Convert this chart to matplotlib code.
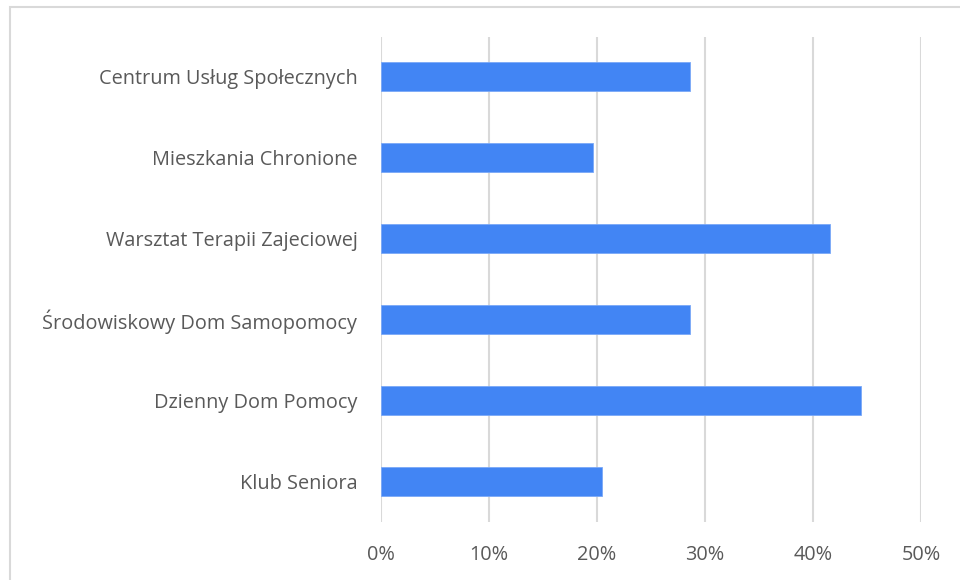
import matplotlib.pyplot as plt
from matplotlib.patches import Rectangle
from matplotlib.ticker import PercentFormatter

categories = ['Centrum Usług Społecznych', 'Mieszkania Chronione',
              'Warsztat Terapii Zajeciowej', 'Środowiskowy Dom Samopomocy',
              'Dzienny Dom Pomocy', 'Klub Seniora']
values = [0.286, 0.196, 0.416, 0.286, 0.444, 0.205]
xticks = [0, 0.1, 0.2, 0.3, 0.4, 0.5]

plt.rcParams['font.family'] = ['Open Sans', 'DejaVu Sans']

fig = plt.figure(figsize=(9.6, 5.8), dpi=100)
ax = fig.add_axes([381 / 960, 1 - 521.5 / 580, 540 / 960, 485 / 580])

# outer chart border (cut off at right and bottom)
fig.patches.append(Rectangle((10 / 960, -0.1), 1.2, 1 - 7 / 580 + 0.1,
                             transform=fig.transFigure, fill=False,
                             edgecolor='#d9d9d9', linewidth=1.5))

y = list(range(len(categories)))
ax.barh(y, values, height=0.36, color='#4285F4', edgecolor='#7aa9f7',
        linewidth=0.6, zorder=3)

ax.set_xlim(0, 0.5)
ax.set_ylim(len(categories) - 0.5, -0.5)
ax.set_xticks(xticks)
ax.xaxis.set_major_formatter(PercentFormatter(1.0, decimals=0))
ax.set_yticks(y)
ax.set_yticklabels(categories)
ax.grid(axis='x', color='#d9d9d9', linewidth=1.5, zorder=0)
for s in ax.spines.values():
    s.set_visible(False)
ax.tick_params(axis='both', length=0, labelcolor='#595959', labelsize=14.3)
ax.tick_params(axis='x', pad=17)
ax.tick_params(axis='y', pad=17)

fig.savefig('out.png', dpi=100)
